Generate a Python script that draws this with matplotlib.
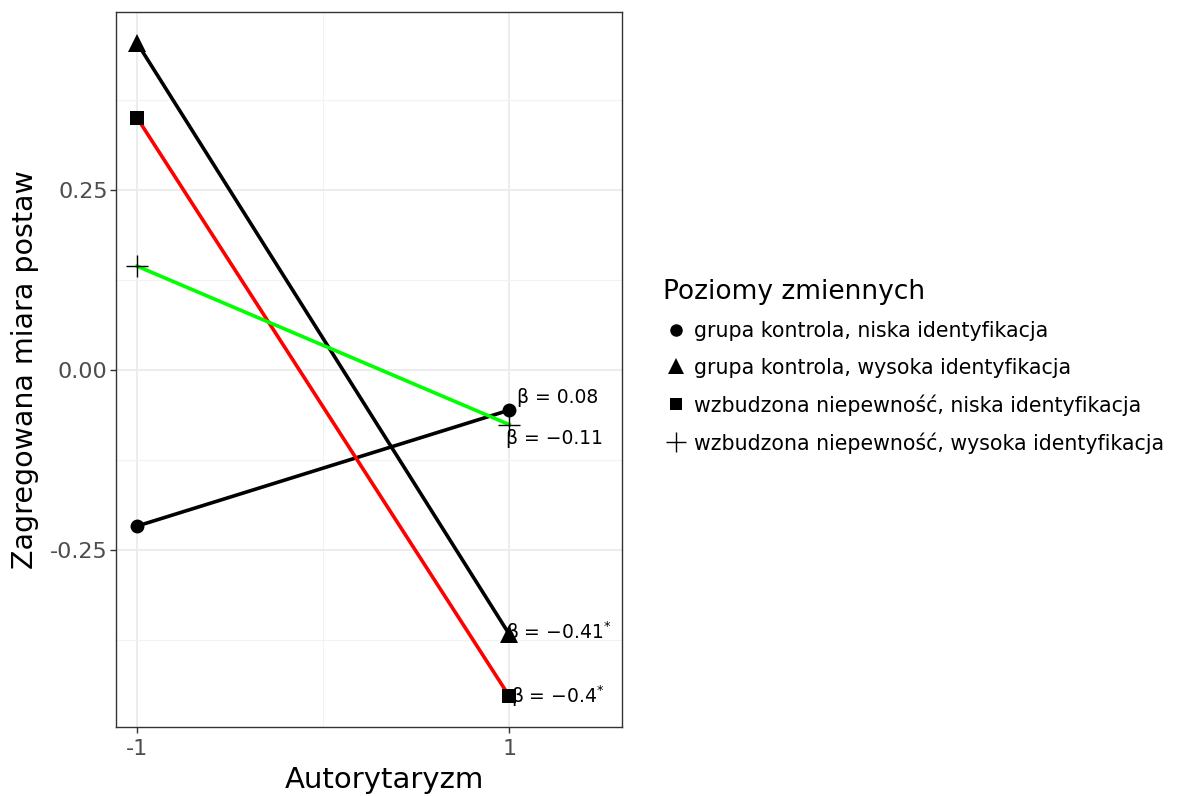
import numpy as np
import matplotlib.pyplot as plt
from matplotlib.lines import Line2D
from matplotlib.ticker import MultipleLocator

plt.rcParams['font.family'] = ['DejaVu Sans']

# data
x = [-1, 1]
series = [
    'grupa kontrola, niska identyfikacja',
    'grupa kontrola, wysoka identyfikacja',
    'wzbudzona niepewność, niska identyfikacja',
    'wzbudzona niepewność, wysoka identyfikacja',
]
y_vals = [
    [-0.217, -0.056],
    [0.454, -0.367],
    [0.350, -0.453],
    [0.144, -0.076],
]
betas = ['0.08', '\u22120.41', '\u22120.4', '\u22120.11']
signif = [False, True, True, False]

line_colors = ['black', 'black', '#FF0000', '#00FF00']
markers = ['o', '^', 's', '+']
msizes = [10, 13, 10, 16]
label_offsets = [(6, 9), (-2, 1), (1, 0), (-2, -10)]  # points

fig = plt.figure(figsize=(11.94, 7.96), dpi=100)
ax = fig.add_axes([0.0972, 0.0867, 0.4238, 0.8983])

for i in range(len(series)):
    ax.plot(x, y_vals[i], color=line_colors[i], lw=2.6, zorder=3)
    ax.plot(x, y_vals[i], ls='none', marker=markers[i], ms=msizes[i], color='black',
            mew=1.0 if markers[i] == '+' else 0, zorder=4)
    txt = '\u03b2 = ' + betas[i] + ('$^{*}$' if signif[i] else '')
    ax.annotate(txt, xy=(x[1], y_vals[i][1]), xytext=label_offsets[i], textcoords='offset points',
                ha='left', va='center', fontsize=13.5, color='black', zorder=5)

ax.set_xlim(-1.113, 1.607)
ax.set_ylim(-0.496, 0.497)
ax.set_xticks([-1, 1])
ax.set_xticklabels(['-1', '1'])
ax.xaxis.set_minor_locator(MultipleLocator(1))
ax.set_yticks([-0.25, 0, 0.25])
ax.set_yticklabels(['-0.25', '0.00', '0.25'])
ax.yaxis.set_minor_locator(MultipleLocator(0.125))
ax.grid(True, which='major', color='#EBEBEB', lw=1.3, zorder=0)
ax.grid(True, which='minor', color='#F2F2F2', lw=0.8, zorder=0)
ax.set_axisbelow(True)
ax.tick_params(which='major', length=4, width=1, color='#333333', labelcolor='#4D4D4D',
               labelsize=16, pad=2)
ax.tick_params(axis='x', which='major', pad=5)
ax.tick_params(which='minor', length=0)
for s in ax.spines.values():
    s.set_color('#333333')
    s.set_linewidth(1)

ax.set_xlabel('Autorytaryzm', fontsize=21)
ax.xaxis.set_label_coords(0.53, -0.055)
ax.set_ylabel('Zagregowana miara postaw', fontsize=20.5, labelpad=8)

handles = [Line2D([], [], ls='none', marker=markers[i], ms=msizes[i] - 1, color='black',
                  mew=1.0 if markers[i] == '+' else 0) for i in range(len(series))]
fig.legend(handles, series, loc='upper left', bbox_to_anchor=(0.54, 0.673), frameon=False,
           title='Poziomy zmiennych', title_fontsize=19, fontsize=14.8, alignment='left',
           handletextpad=0.3, labelspacing=0.8, handlelength=1.2)

fig.savefig('out.png', dpi=100)
